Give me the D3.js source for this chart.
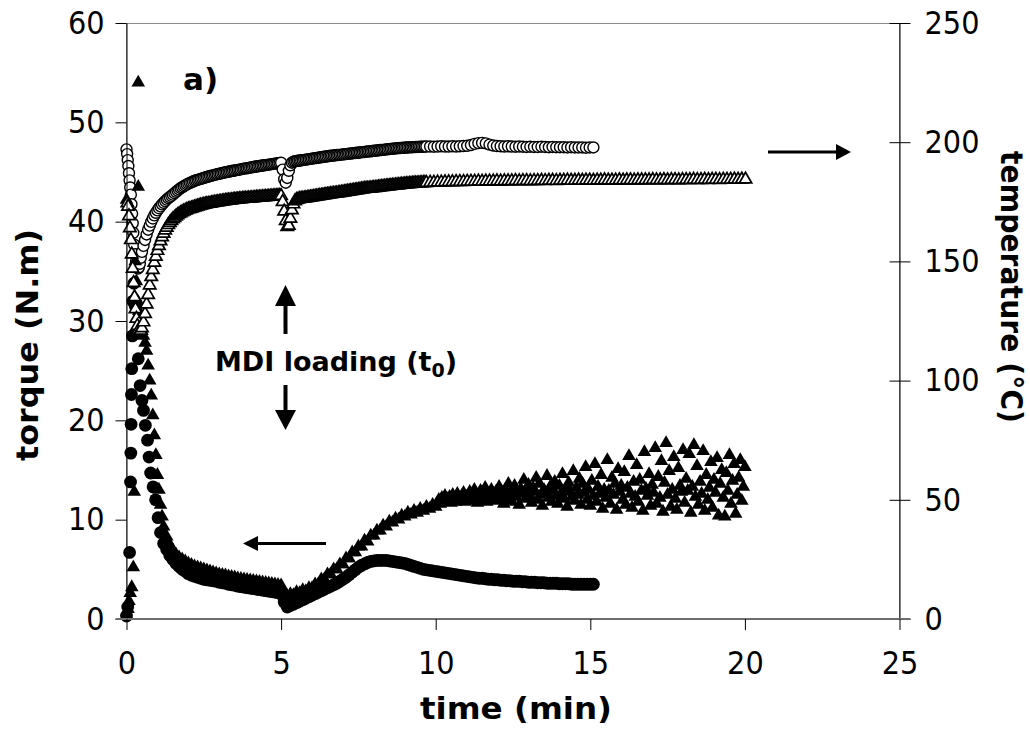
<!DOCTYPE html>
<html>
<head>
<meta charset="utf-8">
<script src="https://cdn.jsdelivr.net/npm/d3@7"></script>
<style>
  html, body { margin: 0; padding: 0; background: #ffffff; }
  svg { display: block; }
  .tick-label text { font-family: "DejaVu Sans Condensed", "DejaVu Sans", sans-serif; font-stretch: condensed; font-size: 32px; fill: #000; }
  .title { font-family: "DejaVu Sans", sans-serif; font-weight: bold; font-size: 31px; fill: #000; }
</style>
</head>
<body>
<svg id="chart" width="1030" height="735"></svg>
<script>
// ---------------- DATA ----------------
const xTicks = [0, 5, 10, 15, 20, 25];
const torqueTicks = [0, 10, 20, 30, 40, 50, 60];
const temperatureTicks = [0, 50, 100, 150, 200, 250];

// Run 1 torque (filled circles)
const torque1EarlyTime  = [0.00, 0.04, 0.10, 0.13, 0.14, 0.15, 0.16, 0.17, 0.19, 0.21, 0.24, 0.28, 0.33, 0.38, 0.44, 0.50, 0.55, 0.61, 0.68, 0.73, 0.78, 0.86, 0.94, 1.02, 1.10];
const torque1EarlyValue = [0.3, 1.2, 6.7, 13.8, 16.7, 19.6, 22.6, 25.2, 28.5, 32, 33.8, 31.5, 28.8, 26.2, 23.5, 22, 21, 19.5, 18, 16.3, 14.7, 13.3, 12, 10.2, 8.7];
const torque1SampleStart = 1.2, torque1SampleStep = 0.1;
const torque1Values = [
  7.6, 7.0, 6.4, 6.0, 5.6, 5.3, 5.0, 4.8, 4.55, 4.4,
  4.3, 4.2, 4.1, 4.0, 3.95, 3.9, 3.85, 3.8, 3.7, 3.65,
  3.6, 3.5, 3.45, 3.4, 3.3, 3.25, 3.2, 3.15, 3.1, 3.05,
  3.0, 2.95, 2.9, 2.85, 2.8, 2.75, 2.7, 2.65, 2.5, 1.7,
  1.2, 1.35, 1.5, 1.65, 1.8, 1.95, 2.1, 2.25, 2.4, 2.55,
  2.7, 2.85, 3.0, 3.15, 3.3, 3.45, 3.6, 3.8, 4.0, 4.2,
  4.45, 4.7, 4.95, 5.2, 5.4, 5.55, 5.7, 5.8, 5.85, 5.9,
  5.9, 5.9, 5.9, 5.85, 5.8, 5.75, 5.7, 5.65, 5.6, 5.5,
  5.4, 5.3, 5.2, 5.1, 5.0, 4.95, 4.9, 4.85, 4.8, 4.75,
  4.7, 4.65, 4.6, 4.55, 4.5, 4.45, 4.4, 4.35, 4.3, 4.25,
  4.2, 4.15, 4.1, 4.1, 4.05, 4.0, 4.0, 3.95, 3.95, 3.9,
  3.9, 3.85, 3.85, 3.8, 3.8, 3.8, 3.75, 3.75, 3.7, 3.7,
  3.7, 3.65, 3.65, 3.65, 3.6, 3.6, 3.6, 3.6, 3.55, 3.55,
  3.55, 3.55, 3.5, 3.5, 3.5, 3.5, 3.5, 3.5, 3.5, 3.5
];

// Run 2 torque (filled triangles)
const torque2EarlyTime  = [0.00, 0.02, 0.05, 0.08, 0.12, 0.17, 0.22, 0.25, 0.28, 0.32, 0.36, 0.38, 0.38, 0.40, 0.45, 0.50, 0.55, 0.60, 0.65, 0.70, 0.75, 0.80, 0.85, 0.90, 0.95, 1.00, 1.05, 1.10, 1.15];
const torque2EarlyValue = [42.2, 0.3, 1.0, 1.8, 2.6, 3.2, 5.2, 12.8, 36, 34, 32, 54, 43.5, 31, 30, 29, 28.5, 27.8, 27, 25.5, 24, 22.5, 20.5, 18.5, 16.5, 14.5, 13, 11.5, 10.3];
const torque2SampleStart = 1.2, torque2SampleStep = 0.1;
const torque2Values = [
  9.3, 8.3, 7.5, 6.9, 6.5, 6.2, 6.0, 5.8, 5.6, 5.45,
  5.3, 5.2, 5.1, 5.0, 4.9, 4.8, 4.7, 4.6, 4.5, 4.45,
  4.4, 4.3, 4.25, 4.2, 4.1, 4.05, 4.0, 3.95, 3.9, 3.85,
  3.8, 3.75, 3.7, 3.65, 3.6, 3.55, 3.5, 3.45, 3.4, 2.7,
  2.3, 2.5, 2.4, 2.7, 2.6, 2.9, 2.8, 3.1, 3.1, 3.5,
  3.5, 4.0, 4.0, 4.5, 4.5, 5.0, 5.0, 5.5, 5.5, 6.1,
  6.1, 6.7, 6.7, 7.3, 7.3, 7.9, 7.8, 8.4, 8.4, 8.9,
  8.9, 9.4, 9.3, 9.8, 9.7, 10.1, 10.0, 10.4, 10.3, 10.7,
  10.5, 10.9, 10.7, 11.1, 10.9, 11.3, 11.1, 11.5, 11.3
];
const torque2LateStart = 10.05, torque2LateStep = 0.05;
const torque2LateValues = [
  11.7, 12.0, 11.6, 12.2, 11.9, 12.4, 11.8, 12.1, 12.3, 11.7, 12.5, 12.0, 11.8, 12.6, 12.2, 11.9, 12.4, 12.7, 11.8, 12.3,
  12.1, 12.8, 11.9, 12.4, 13.0, 12.2, 11.7, 12.6, 12.9, 12.0, 12.4, 13.2, 11.8, 12.5, 12.2, 13.0, 12.6, 11.9, 12.8, 12.3,
  13.3, 12.0, 12.7, 11.6, 13.0, 12.5, 13.6, 12.2, 11.8, 12.9, 13.4, 12.3, 12.8, 11.5, 13.1, 12.6, 14.0, 12.1, 12.9, 13.5,
  12.4, 11.7, 13.2, 12.8, 14.2, 12.0, 13.6, 12.5, 11.4, 13.0, 12.7, 14.4, 12.2, 13.3, 11.8, 12.9, 13.8, 12.4, 11.6, 13.4,
  12.6, 14.6, 12.1, 13.1, 11.3, 13.7, 12.8, 12.3, 14.9, 11.9, 13.2, 12.5, 14.1, 11.5, 13.6, 12.7, 15.3, 12.0, 13.0, 11.4,
  13.9, 12.4, 15.6, 11.8, 13.3, 12.6, 14.5, 11.1, 13.0, 12.2, 16.0, 12.9, 11.6, 14.2, 12.5, 13.6, 11.0, 15.1, 12.8, 13.4,
  12.0, 14.8, 11.5, 13.2, 16.4, 12.6, 11.2, 13.8, 12.3, 15.5, 11.8, 14.0, 12.9, 10.9, 16.8, 13.1, 12.4, 14.6, 11.4, 13.5,
  12.7, 17.2, 11.6, 14.3, 12.2, 15.9, 10.8, 13.7, 17.7, 12.5, 14.9, 11.3, 13.0, 16.3, 12.1, 11.0, 15.2, 13.4, 12.8, 17.0,
  11.7, 14.1, 12.9, 16.6, 10.7, 13.3, 17.5, 12.3, 15.4, 11.5, 13.8, 12.6, 16.9, 10.9, 14.5, 12.0, 13.2, 15.8, 11.2, 14.0,
  12.7, 16.2, 10.4, 13.6, 15.0, 12.2, 10.3, 14.7, 12.9, 16.5, 11.6, 13.9, 15.6, 10.6, 12.5, 14.2, 16.0, 11.9, 13.3, 15.3
];

// Run 1 temperature (open circles)
const temp1EarlyTime  = [0.00, 0.02, 0.04, 0.06, 0.08, 0.10, 0.12, 0.14, 0.16, 0.18, 0.20, 0.22, 0.25, 0.28, 0.31, 0.34, 0.37, 0.40, 0.43, 0.46];
const temp1EarlyValue = [197, 195, 192.5, 190, 187, 184, 181, 178, 174, 170, 166, 162, 157, 153, 150, 148, 147, 147.5, 149, 151.5];
const temp1FastStart = 0.5, temp1FastStep = 0.05;
const temp1FastValues = [
  154, 156.5, 159, 161.3, 163.3, 165, 166.6, 168, 169.3, 170.4, 171.4, 172.3, 173.1, 173.9, 174.6, 175.3, 175.9, 176.5, 177, 177.5,
  178, 178.6, 179.2, 179.7, 180.2, 180.7, 181.1, 181.5, 181.9, 182.3, 182.6, 182.9, 183.2, 183.5, 183.8, 184.0, 184.2, 184.4, 184.6, 184.8,
  185.0, 185.2, 185.4, 185.6, 185.8, 186.0, 186.1, 186.3, 186.5, 186.6, 186.8, 186.9, 187.1, 187.2, 187.4, 187.5, 187.6, 187.8, 187.9, 188.0,
  188.1, 188.3, 188.4, 188.5, 188.6, 188.8, 188.9, 189.0, 189.1, 189.2, 189.3, 189.5, 189.6, 189.7, 189.8, 189.9, 190.0, 190.1, 190.2, 190.3,
  190.4, 190.5, 190.6, 190.7, 190.8, 190.9, 191.0, 191.1, 191.2, 191.3, 191.4, 188.5, 184.5, 183, 185, 188, 190.3, 191.4, 191.8, 192,
  192.1, 192.2, 192.3, 192.4, 192.5, 192.6, 192.7, 192.8, 192.9, 193.0, 193.1, 193.2, 193.3, 193.4, 193.5, 193.6, 193.7, 193.8, 193.9, 194.0,
  194.1, 194.2, 194.3, 194.35, 194.4, 194.5, 194.6, 194.65, 194.7, 194.8, 194.9, 194.95, 195.0, 195.1, 195.2, 195.25, 195.3, 195.4, 195.5, 195.55,
  195.6, 195.7, 195.8, 195.85, 195.9, 196.0, 196.1, 196.15, 196.2, 196.3, 196.4, 196.45, 196.5, 196.6, 196.7, 196.75, 196.8, 196.9, 197.0, 197.05,
  197.1, 197.2, 197.25, 197.3, 197.4, 197.45, 197.5, 197.55, 197.6, 197.65, 197.7, 197.75, 197.8, 197.85, 197.9, 197.9, 197.95, 198.0, 198.0, 198.05,
  198.1, 198.1, 198.1, 198.15
];
const temp1SlowStart = 9.7, temp1SlowStep = 0.12;
const temp1SlowValues = [
  198.2, 198.2, 198.1, 198.2, 198.3, 198.2, 198.2, 198.3, 198.2, 198.3,
  198.4, 198.5, 198.8, 199.3, 199.6, 199.7, 199.5, 199.0, 198.6, 198.4,
  198.3, 198.2, 198.3, 198.2, 198.1, 198.2, 198.1, 198.0, 198.1, 198.0,
  198.0, 198.1, 198.0, 197.9, 198.0, 197.9, 197.9, 197.9, 197.8, 197.9,
  197.8, 197.8, 197.8, 197.7, 197.8, 197.8
];

// Run 2 temperature (open triangles)
const temp2EarlyTime  = [0.03, 0.05, 0.08, 0.11, 0.14, 0.17, 0.20, 0.23, 0.26, 0.29, 0.32, 0.35, 0.38, 0.42, 0.46];
const temp2EarlyValue = [174.5, 173, 169, 164, 159, 153, 147, 141, 135, 130, 126, 123, 121, 120.5, 121];
const temp2FastStart = 0.5, temp2FastStep = 0.05;
const temp2FastValues = [
  122, 124.5, 128, 132, 136, 140, 143.5, 146.5, 149.5, 152, 154.5, 156.5, 158.5, 160.2, 161.7, 163, 164.2, 165.3, 166.2, 167.0,
  167.7, 168.3, 168.9, 169.4, 169.9, 170.3, 170.7, 171.0, 171.3, 171.6, 171.9, 172.1, 172.3, 172.5, 172.7, 172.9, 173.1, 173.3, 173.5, 173.6,
  173.8, 173.9, 174.1, 174.2, 174.3, 174.5, 174.6, 174.7, 174.8, 174.9, 175.0, 175.1, 175.2, 175.3, 175.4, 175.5, 175.6, 175.6, 175.7, 175.8,
  175.9, 175.9, 176.0, 176.1, 176.1, 176.2, 176.3, 176.3, 176.4, 176.5, 176.5, 176.6, 176.6, 176.7, 176.8, 176.8, 176.9, 176.9, 177.0, 177.0,
  177.1, 177.1, 177.2, 177.2, 177.3, 177.3, 177.4, 177.4, 177.5, 177.5, 177.5, 175, 171, 167, 164.5, 165, 168, 171.5, 174, 175.3,
  175.8, 176.0, 176.2, 176.3, 176.4, 176.5, 176.6, 176.7, 176.8, 176.9, 177.0, 177.1, 177.2, 177.3, 177.4, 177.5, 177.6, 177.7, 177.8, 177.9,
  178.0, 178.1, 178.2, 178.3, 178.4, 178.5, 178.6, 178.7, 178.8, 178.9, 179.0, 179.1, 179.2, 179.3, 179.4, 179.5, 179.6, 179.7, 179.8, 179.9,
  180.0, 180.1, 180.2, 180.3, 180.4, 180.5, 180.5, 180.6, 180.7, 180.8, 180.9, 180.9, 181.0, 181.1, 181.2, 181.3, 181.3, 181.4, 181.5, 181.6,
  181.6, 181.7, 181.8, 181.8, 181.9, 182.0, 182.0, 182.1, 182.2, 182.2, 182.3, 182.4, 182.4, 182.5, 182.5, 182.6, 182.7, 182.7, 182.8, 182.8,
  182.9, 182.9, 183.0, 183.0
];
const temp2SlowStart = 9.7, temp2SlowStep = 0.12;
const temp2SlowValues = [
  183.0, 183.1, 183.1, 183.2, 183.2, 183.3, 183.3, 183.3, 183.4, 183.4,
  183.4, 183.5, 183.5, 183.5, 183.6, 183.5, 183.6, 183.6, 183.6, 183.7,
  183.6, 183.7, 183.7, 183.7, 183.8, 183.7, 183.8, 183.8, 183.7, 183.8,
  183.8, 183.9, 183.8, 183.9, 183.9, 183.8, 183.9, 183.9, 184.0, 183.9,
  183.9, 184.0, 183.9, 184.0, 184.0, 183.9, 184.0, 184.0, 184.1, 184.0,
  184.0, 184.0, 184.1, 184.0, 184.1, 184.1, 184.0, 184.1, 184.1, 184.1,
  184.1, 184.2, 184.1, 184.1, 184.2, 184.1, 184.2, 184.2, 184.1, 184.2,
  184.2, 184.2, 184.3, 184.2, 184.2, 184.3, 184.2, 184.3, 184.3, 184.2,
  184.3, 184.3, 184.3, 184.4, 184.3, 184.4, 184.4
];

// ---------------- HELPERS ----------------
function explicitPoints(times, values) { return times.map((t, i) => ({ t: t, v: values[i] })); }
function loggedPoints(start, step, values) { return values.map((v, i) => ({ t: start + i * step, v: v })); }

const torque1 = explicitPoints(torque1EarlyTime, torque1EarlyValue)
  .concat(loggedPoints(torque1SampleStart, torque1SampleStep, torque1Values));
const torque2 = explicitPoints(torque2EarlyTime, torque2EarlyValue)
  .concat(loggedPoints(torque2SampleStart, torque2SampleStep, torque2Values))
  .concat(loggedPoints(torque2LateStart, torque2LateStep, torque2LateValues));
const temp1 = explicitPoints(temp1EarlyTime, temp1EarlyValue)
  .concat(loggedPoints(temp1FastStart, temp1FastStep, temp1FastValues))
  .concat(loggedPoints(temp1SlowStart, temp1SlowStep, temp1SlowValues));
const temp2 = explicitPoints(temp2EarlyTime, temp2EarlyValue)
  .concat(loggedPoints(temp2FastStart, temp2FastStep, temp2FastValues))
  .concat(loggedPoints(temp2SlowStart, temp2SlowStep, temp2SlowValues));

// ---------------- CHART ----------------
const svg = d3.select("#chart");
const plot = { left: 126.5, right: 899.5, top: 23, bottom: 619 };

const x = d3.scaleLinear().domain([0, 25]).range([plot.left, plot.right]);
const yTorque = d3.scaleLinear().domain([0, 60]).range([plot.bottom, plot.top]);
const yTemp = d3.scaleLinear().domain([0, 250]).range([plot.bottom, plot.top]);

// plot area border
svg.append("rect")
  .attr("x", plot.left).attr("y", plot.top + 0.5)
  .attr("width", plot.right - plot.left).attr("height", plot.bottom - plot.top)
  .attr("fill", "none").attr("stroke", "#8c8c8c").attr("stroke-width", 1);

// markers
const filledTriangle = d3.symbol().type(d3.symbolTriangle).size(80);
const openTriangle = d3.symbol().type(d3.symbolTriangle).size(66);

function drawCircles(data, yScale, filled) {
  svg.append("g").selectAll("circle").data(data).join("circle")
    .attr("cx", d => x(d.t)).attr("cy", d => yScale(d.v))
    .attr("r", filled ? 6.4 : 5.5)
    .attr("fill", filled ? "#000" : "#fff")
    .attr("stroke", "#000").attr("stroke-width", filled ? 0 : 1.4);
}
function drawTriangles(data, yScale, filled) {
  svg.append("g").selectAll("path").data(data).join("path")
    .attr("d", filled ? filledTriangle : openTriangle)
    .attr("transform", d => `translate(${x(d.t)},${yScale(d.v)})`)
    .attr("fill", filled ? "#000" : "#fff")
    .attr("stroke", "#000").attr("stroke-width", filled ? 0 : 1.7);
}

drawCircles(torque1, yTorque, true);
drawCircles(temp1, yTemp, false);
drawTriangles(torque2, yTorque, true);
drawTriangles(temp2, yTemp, false);

// axes
const leftAxis = svg.append("g").attr("transform", `translate(${plot.left},0)`)
  .call(d3.axisLeft(yTorque).tickValues(torqueTicks).tickSizeInner(11).tickSizeOuter(0).tickPadding(11));
const rightAxis = svg.append("g").attr("transform", `translate(${plot.right},0)`)
  .call(d3.axisRight(yTemp).tickValues(temperatureTicks).tickSizeInner(11).tickSizeOuter(0).tickPadding(14));
rightAxis.selectAll(".tick line").attr("x1", -10);
const bottomAxis = svg.append("g").attr("transform", `translate(0,${plot.bottom})`)
  .call(d3.axisBottom(x).tickValues(xTicks).tickSizeInner(11).tickSizeOuter(0).tickPadding(21));

[leftAxis, rightAxis, bottomAxis].forEach(g => {
  g.attr("font-family", null).attr("font-size", null).attr("class", "tick-label");
  g.selectAll(".tick line").attr("stroke", "#000").attr("stroke-width", 1);
  g.select(".domain").attr("stroke", "#000").attr("stroke-width", 1);
});
bottomAxis.select(".domain").attr("stroke", "#6e6e6e").attr("stroke-width", 2)
  .attr("d", `M${plot.left - 11},0H${plot.right + 11}`);

// titles
svg.append("text").attr("class", "title")
  .attr("x", 516).attr("y", 719).attr("text-anchor", "middle")
  .attr("textLength", 192).attr("lengthAdjust", "spacingAndGlyphs").text("time (min)");
svg.append("text").attr("class", "title")
  .attr("transform", "translate(38,345) rotate(-90)").attr("text-anchor", "middle")
  .attr("textLength", 232).attr("lengthAdjust", "spacingAndGlyphs").text("torque (N.m)");
svg.append("text").attr("class", "title")
  .attr("transform", "translate(1001,287) rotate(90)").attr("text-anchor", "middle")
  .attr("textLength", 272).attr("lengthAdjust", "spacingAndGlyphs").text("temperature (°C)");

svg.append("text").attr("class", "title").style("font-size", "31px")
  .attr("x", 183).attr("y", 90).text("a)");

const mdi = svg.append("text").attr("class", "title").style("font-size", "27px")
  .attr("x", 215).attr("y", 371);
mdi.append("tspan").text("MDI loading (t");
mdi.append("tspan").attr("dy", 6).style("font-size", "19px").text("0");
mdi.append("tspan").attr("dy", -6).text(")");

// arrows
function arrow(x1, y1, x2, y2, width, headLen, headHalf) {
  const ang = Math.atan2(y2 - y1, x2 - x1);
  const bx = x2 - headLen * Math.cos(ang), by = y2 - headLen * Math.sin(ang);
  svg.append("line").attr("x1", x1).attr("y1", y1).attr("x2", bx).attr("y2", by)
    .attr("stroke", "#000").attr("stroke-width", width);
  const px = -Math.sin(ang) * headHalf, py = Math.cos(ang) * headHalf;
  svg.append("path")
    .attr("d", `M${x2},${y2}L${bx + px},${by + py}L${bx - px},${by - py}Z`)
    .attr("fill", "#000");
}
arrow(285.5, 334, 285.5, 285, 4, 21, 10.5);   // up arrow
arrow(285.5, 385, 285.5, 430, 4, 20, 10.5);   // down arrow
arrow(326, 543.5, 243, 543.5, 3, 15, 7.5);    // torque arrow (left)
arrow(768, 152, 851, 152, 3, 15, 8);          // temperature arrow (right)
</script>
</body>
</html>
